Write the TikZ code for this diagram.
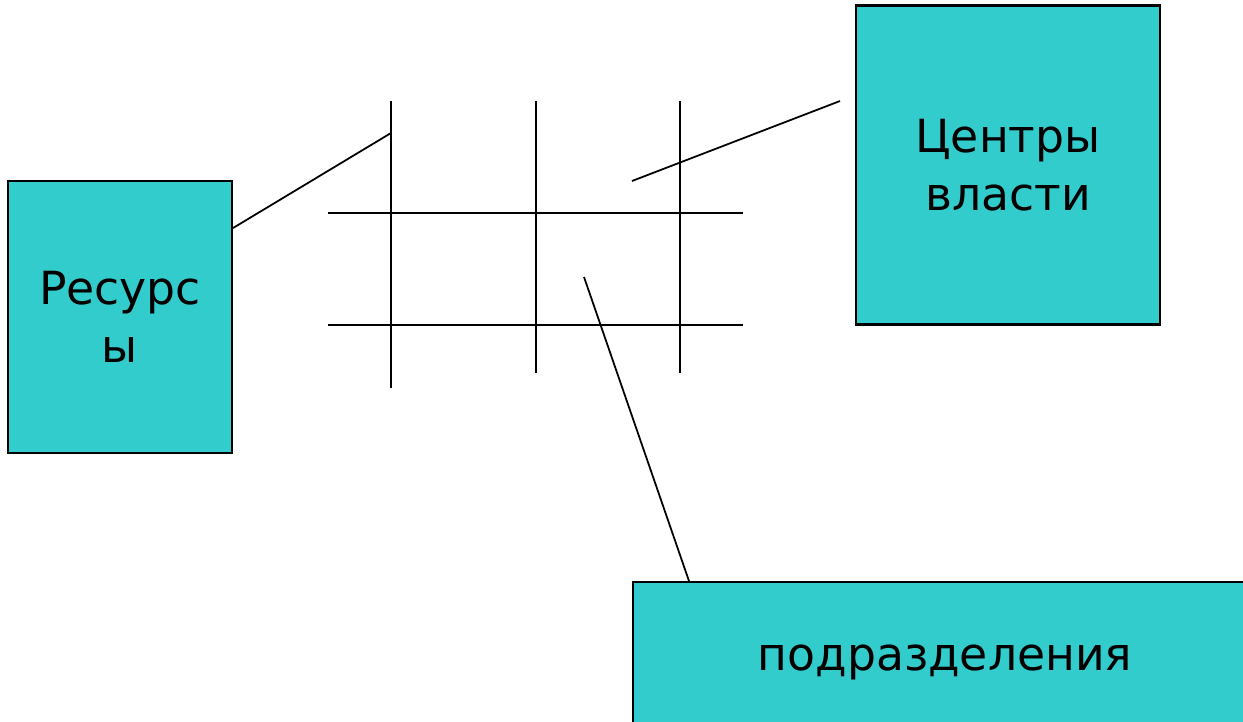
\documentclass[tikz,border=0pt]{standalone}
\usepackage{fontspec}
\setmainfont{DejaVu Sans}
\usetikzlibrary{positioning}
\definecolor{boxteal}{HTML}{33CCCC}
\tikzset{
  box/.style={draw=black, line width=1.2pt, fill=boxteal, inner sep=0pt, align=center, font=\fontsize{26}{33}\selectfont},
  gridline/.style={line width=1pt},
  link/.style={line width=1pt}
}
\begin{document}
\begin{tikzpicture}[x=0.02cm,y=-0.02cm]
\useasboundingbox (0,0) rectangle (1243,721);
\clip (0,0) rectangle (1243,721);

\node[box, minimum width=4.48cm, minimum height=5.44cm] (res) at (120,317) {Ресурс\\ы};
\node[box, minimum width=6.08cm, minimum height=6.38cm] (ctr) at (1008,165) {Центры\\власти};
\node[box, anchor=north west, minimum width=12.48cm, minimum height=3.2cm] (sub) at (632,581) {подразделения};

% grid
\foreach \x/\b in {391/388,536/373,680/373}
  \draw[gridline] (\x,101) -- (\x,\b);
\foreach \y in {213,325}
  \draw[gridline] (328,\y) -- (743,\y);

\coordinate (resgrid) at (391,133);
\coordinate (ctrgrid) at (632,181);
\coordinate (ctrend) at (840,101);
\coordinate (subgrid) at (584,277);
\draw[link] ([yshift=1.78cm]res.east) -- (resgrid);
\draw[link] (ctrgrid) -- (ctrend);
\draw[link] (subgrid) -- ([xshift=1.14cm]sub.north west);
\end{tikzpicture}
\end{document}
